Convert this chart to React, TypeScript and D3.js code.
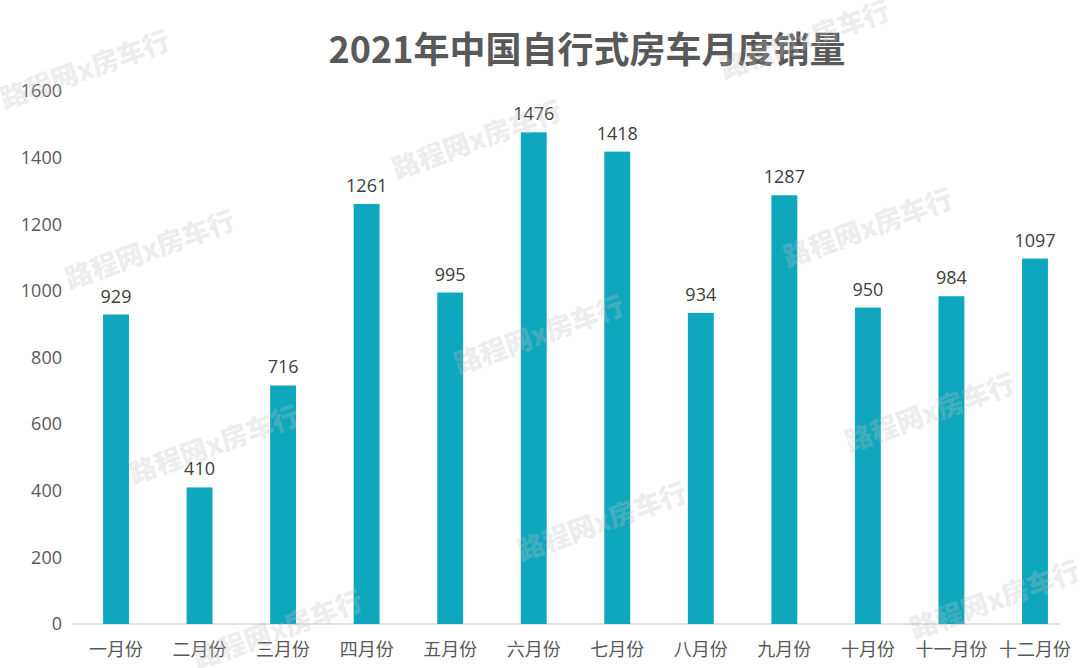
import * as d3 from 'd3';

const months = ['一月份', '二月份', '三月份', '四月份', '五月份', '六月份', '七月份', '八月份', '九月份', '十月份', '十一月份', '十二月份'];
const sales = [929, 410, 716, 1261, 995, 1476, 1418, 934, 1287, 950, 984, 1097];
const yTicks = [0, 200, 400, 600, 800, 1000, 1200, 1400, 1600];
const title = '2021年中国自行式房车月度销量';
const watermark = '路程网x房车行';

// decorative watermark spots (centre points), some run off the edge as in the source
const marks: [number, number][] = [
  [85, 70], [805, 40], [477, 140], [150, 250], [868, 228], [539, 335],
  [214, 445], [930, 413], [602, 522], [278, 630], [995, 600],
];

const width = 1080;
const height = 668;
const barColor = '#0ea7be';
const font = '"Open Sans", "Noto Sans CJK SC", sans-serif';
const cjk = '"Noto Sans CJK SC", sans-serif';

export default function App() {
  const x = d3
    .scaleBand<string>()
    .domain(months)
    .range([74.25, 1076.75])
    .paddingInner(0.69)
    .paddingOuter(0.345);

  const y = d3.scaleLinear().domain([0, 1600]).range([624, 91]);

  return (
    <svg
      width={width}
      height={height}
      viewBox={`0 0 ${width} ${height}`}
      style={{ position: 'absolute', left: 0, top: 0, background: '#fff' }}
    >
      <rect width={width} height={height} fill="#fff" />

      <text
        x={587}
        y={63}
        textAnchor="middle"
        fontFamily={cjk}
        fontWeight={700}
        fontSize={36}
        fill="#595959"
      >
        {title}
      </text>

      {yTicks.map((t) => (
        <text
          key={t}
          x={62}
          y={y(t)}
          dy="0.35em"
          textAnchor="end"
          fontFamily={font}
          fontSize={18}
          fill="#595959"
        >
          {t}
        </text>
      ))}

      <line x1={73} x2={1060} y1={y(0)} y2={y(0)} stroke="#d9d9d9" strokeWidth={1.5} />

      {months.map((m, i) => (
        <g key={m}>
          <rect
            x={x(m)!}
            y={y(sales[i])}
            width={x.bandwidth()}
            height={y(0) - y(sales[i])}
            fill={barColor}
          />
          <text
            x={x(m)! + x.bandwidth() / 2}
            y={y(sales[i]) - 12}
            textAnchor="middle"
            fontFamily={font}
            fontSize={18}
            fill="#404040"
          >
            {sales[i]}
          </text>
          <text
            x={x(m)! + x.bandwidth() / 2}
            y={656}
            textAnchor="middle"
            fontFamily={cjk}
            fontSize={18}
            fill="#595959"
          >
            {m}
          </text>
        </g>
      ))}

      {marks.map(([cx, cy], i) => (
        <text
          key={i}
          x={cx}
          y={cy}
          dy="0.35em"
          textAnchor="middle"
          transform={`rotate(-20 ${cx} ${cy})`}
          fontFamily={cjk}
          fontWeight={900}
          fontSize={27}
          fill="#bfbfbf"
          fillOpacity={0.3}
        >
          {watermark}
        </text>
      ))}
    </svg>
  );
}
